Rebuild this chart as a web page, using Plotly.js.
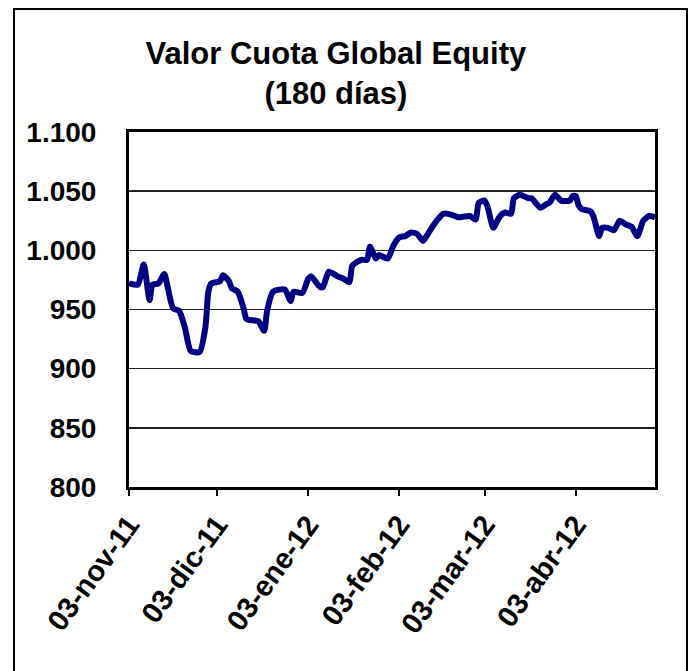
<!DOCTYPE html>
<html>
<head>
<meta charset="utf-8">
<script src="https://cdn.plot.ly/plotly-3.0.1.min.js"></script>
<style>html,body{margin:0;padding:0;background:#fff;}#chart{width:694px;height:671px;}</style>
</head>
<body>
<div id="chart"></div>
<script>
const dates = [
 '2011-11-03','2011-11-06','2011-11-08','2011-11-10','2011-11-11','2011-11-13','2011-11-15','2011-11-16',
 '2011-11-18','2011-11-20','2011-11-22','2011-11-24','2011-11-27','2011-11-29','2011-11-30','2011-12-01',
 '2011-12-04','2011-12-05','2011-12-07','2011-12-08','2011-12-10','2011-12-12','2011-12-13','2011-12-17',
 '2011-12-19','2011-12-20','2011-12-22','2011-12-26','2011-12-28','2011-12-29','2012-01-01','2012-01-03',
 '2012-01-04','2012-01-07','2012-01-08','2012-01-10','2012-01-13','2012-01-15','2012-01-17','2012-01-18',
 '2012-01-21','2012-01-23','2012-01-24','2012-01-26','2012-01-27','2012-01-30','2012-02-01','2012-02-03',
 '2012-02-05','2012-02-07','2012-02-09','2012-02-11','2012-02-12','2012-02-14','2012-02-16','2012-02-18',
 '2012-02-19','2012-02-22','2012-02-23','2012-02-27','2012-02-29','2012-03-01','2012-03-03','2012-03-04',
 '2012-03-06','2012-03-08','2012-03-10','2012-03-12','2012-03-13','2012-03-15','2012-03-18','2012-03-19',
 '2012-03-22','2012-03-24','2012-03-25','2012-03-27','2012-03-29','2012-04-01','2012-04-02','2012-04-03',
 '2012-04-04','2012-04-05','2012-04-08','2012-04-09','2012-04-11','2012-04-12','2012-04-14','2012-04-16',
 '2012-04-18','2012-04-20','2012-04-22','2012-04-24','2012-04-26','2012-04-28','2012-04-30'
];
const values = [
 972,971,988,958,971,972,980,971,
 951,949,935,915,914,935,965,972,
 974,979,974,968,965,951,942,940,
 932,949,965,967,957,965,964,976,
 978,969,969,982,978,976,973,987,
 992,992,1003,993,996,993,1004,1011,
 1012,1015,1014,1008,1011,1019,1026,1031,
 1031,1029,1028,1029,1026,1040,1042,1037,
 1019,1028,1032,1031,1044,1047,1044,1044,
 1036,1039,1040,1047,1042,1042,1046,1046,
 1038,1035,1033,1029,1012,1019,1019,1017,
 1025,1022,1020,1012,1025,1029,1028
];
const xTickVals = ['2011-11-03','2011-12-03','2012-01-03','2012-02-03','2012-03-03','2012-04-03'];
const xTickText = ['03-nov-11','03-dic-11','03-ene-12','03-feb-12','03-mar-12','03-abr-12'];
const yTickVals = [800,850,900,950,1000,1050,1100];
const yTickText = ['800','850','900','950','1.000','1.050','1.100'];

const fontFam = '"Liberation Sans", Arial, sans-serif';

Plotly.newPlot('chart', [{
  x: dates, y: values, type: 'scatter', mode: 'lines',
  line: {color: '#000080', width: 6, shape: 'spline', smoothing: 0.6},
  hoverinfo: 'skip'
}], {
  width: 694, height: 671,
  margin: {l: 129, r: 39, t: 132, b: 184},
  paper_bgcolor: '#ffffff', plot_bgcolor: '#ffffff',
  showlegend: false,
  font: {family: fontFam, color: '#000', size: 22, weight: 'bold'},
  title: {
    text: 'Valor Cuota Global Equity<br>(180 días)',
    font: {family: fontFam, size: 31, color: '#000', weight: 'bold'},
    x: 0.484, xref: 'container', xanchor: 'center',
    y: 0.905, yref: 'container', yanchor: 'top',
    pad: {t: 0}
  },
  xaxis: {
    type: 'date', range: ['2011-11-03', '2012-04-30'],
    tickmode: 'array', tickvals: xTickVals, ticktext: xTickText,
    tickangle: -54, ticks: 'outside', ticklen: 6, tickwidth: 2, tickcolor: '#000',
    tickfont: {family: fontFam, size: 29, color: '#000', weight: 'bold'},
    showgrid: false, zeroline: false,
    showline: true, linecolor: '#000', linewidth: 3, mirror: true
  },
  yaxis: {
    range: [800, 1100],
    tickmode: 'array', tickvals: yTickVals, ticktext: yTickText,
    ticks: '', ticklabelstandoff: 24,
    tickfont: {family: fontFam, size: 28, color: '#000', weight: 'bold'},
    showgrid: true, gridcolor: '#222', gridwidth: 1.5, zeroline: false,
    showline: true, linecolor: '#000', linewidth: 3, mirror: true
  },
  shapes: [{
    type: 'rect', xref: 'paper', yref: 'paper',
    x0: -0.2186, x1: 1.0608, y0: -0.53, y1: 1.3465,
    line: {color: '#000', width: 2}, fillcolor: 'rgba(0,0,0,0)', layer: 'below'
  }]
}, {staticPlot: true});
</script>
</body>
</html>
